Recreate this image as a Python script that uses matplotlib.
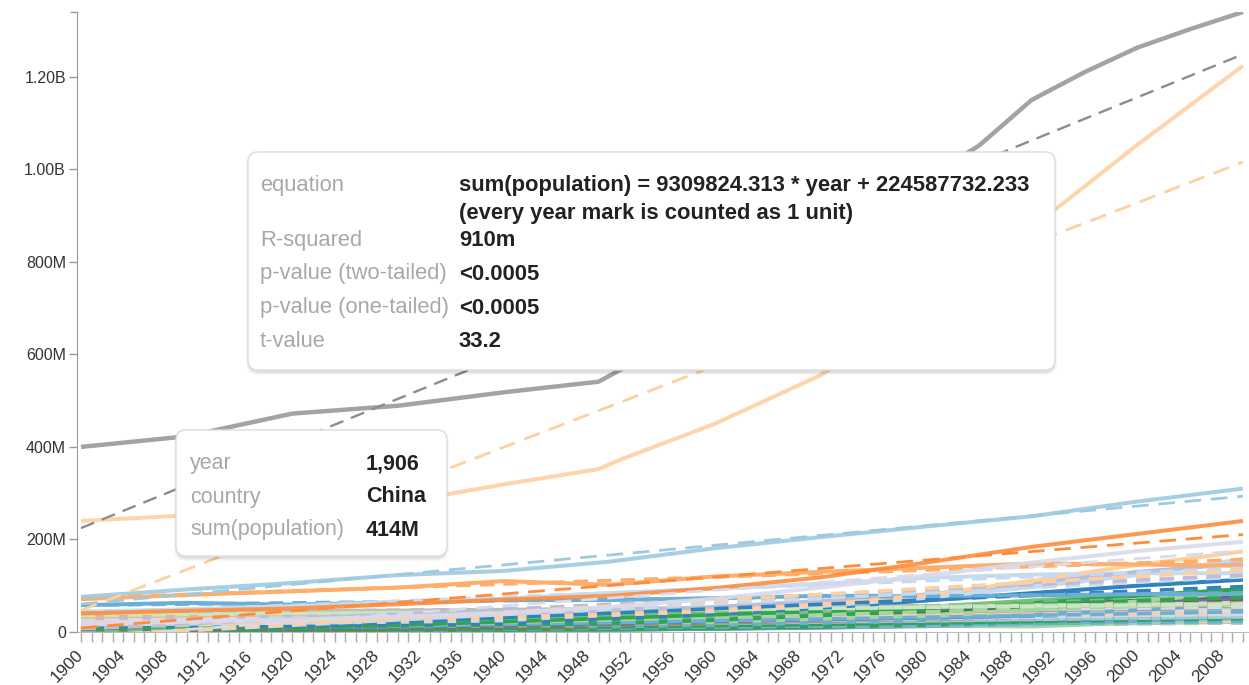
import numpy as np
import matplotlib
matplotlib.use("Agg")
import matplotlib.pyplot as plt
from matplotlib.patches import FancyBboxPatch
from matplotlib.transforms import IdentityTransform

plt.rcParams['font.family'] = ['Liberation Sans', 'DejaVu Sans']

# ---------------- data (population, millions) ----------------
DECADES = [1900, 1910, 1920, 1930, 1940, 1950, 1960, 1970, 1980, 1990, 2000, 2010]

china_years = [1900, 1910, 1920, 1930, 1940, 1949, 1951, 1955, 1960, 1965, 1970, 1975,
               1980, 1985, 1990, 1995, 2000, 2005, 2010]
china_pop = [400, 423, 472, 489, 518, 541, 566, 610, 660, 715, 818, 916,
             981, 1051, 1150, 1210, 1263, 1303, 1340]

india_years = [1900, 1910, 1920, 1930, 1940, 1949, 1951, 1960, 1970, 1980, 1990, 2000, 2010]
india_pop = [240, 252, 253, 279, 319, 352, 372, 450, 555, 699, 873, 1053, 1224]

usa = [76, 92, 106, 123, 132, 152, 181, 205, 228, 250, 282, 310]
indonesia = [40, 46, 51, 60, 70, 78, 95, 118, 150, 184, 212, 240]
brazil = [17, 22, 27, 33, 41, 54, 72, 96, 122, 150, 175, 195]
russia = [71, 80, 88, 96, 110, 102, 120, 130, 139, 148, 146, 143]
pakistan = [20, 22, 24, 27, 31, 37, 46, 59, 79, 111, 145, 174]
bangladesh = [29, 31, 33, 36, 42, 44, 54, 67, 81, 106, 130, 148]
nigeria = [16, 18, 20, 22, 25, 38, 45, 56, 74, 97, 123, 158]
japan = [44, 49, 56, 64, 72, 84, 94, 104, 117, 124, 127, 127]
germany = [58, 63, 59, 64, 69, 69, 73, 78, 78, 79, 82, 82]
mexico = [13.6, 15, 14.5, 16.5, 19.8, 28, 38, 52, 68, 84, 100, 113]
philippines = [7.3, 8.6, 10.3, 13, 16, 18, 26, 36, 48, 62, 78, 93]
vietnam = [13, 14, 15, 17, 20, 25, 32, 43, 54, 68, 80, 88]
ethiopia = [11, 11.5, 12, 13, 15, 18, 22, 29, 36, 48, 66, 87]
egypt = [10, 11.5, 13, 14.5, 16.5, 21.5, 27, 35, 44, 56, 68, 81]
turkey = [12, 13, 13.5, 14.5, 18, 21, 28, 35, 44, 56, 64, 73]
iran = [10, 10.5, 11, 12, 14, 17, 22, 29, 39, 56, 66, 74]
thailand = [7, 8, 9.5, 12, 15, 20, 27, 36, 46, 56, 62, 66]
france = [41, 41.5, 39, 41.5, 41, 42, 46, 51, 54, 57, 59, 63]
uk = [41, 45, 46, 46, 48, 50, 52, 56, 56, 57, 59, 62]
italy = [32, 35, 36, 41, 44, 47, 50, 54, 56, 57, 57, 60]
congo = [11, 11, 11, 12, 14, 12, 15, 20, 27, 37, 47, 62]
south_africa = [5, 6, 7, 9, 11, 14, 17, 22, 29, 37, 44, 50]
south_korea = [8, 9, 10, 12, 14, 19, 25, 32, 38, 43, 46, 49]
myanmar = [10, 12, 13, 15, 16, 17, 21, 27, 34, 40, 46, 50]
ukraine = [26, 30, 28, 30, 41, 37, 42, 47, 50, 52, 49, 46]
spain = [18.5, 20, 21, 23.5, 26, 28, 30, 34, 37, 39, 40, 46]
colombia = [4, 5, 6, 8, 9, 12, 16, 21, 27, 33, 39, 45]
argentina = [4.7, 6.8, 8.9, 11.9, 14.2, 17, 20.6, 24, 28, 32, 37, 40]
poland = [24, 27, 27, 31, 35, 25, 30, 33, 35, 38, 38, 38]
kenya = [2.9, 3, 3.3, 3.8, 4.5, 6, 8, 11, 16, 23, 31, 40]
canada = [5.3, 7, 8.6, 10, 11, 14, 18, 21, 24, 28, 31, 34]
tanzania = [4, 4.3, 4.7, 5.3, 6.2, 7.6, 10, 13.6, 18.7, 25.5, 34, 45]
sudan = [3.5, 3.9, 4.3, 5, 6, 7.5, 10, 13.9, 19, 26, 34, 43]
algeria = [4.6, 5.2, 5.8, 6.3, 7.6, 8.9, 11, 14, 19, 25.3, 30.5, 35.5]
uganda = [2, 2.3, 2.6, 3, 3.6, 5.2, 6.8, 9.4, 12.6, 17.7, 24, 33]
morocco = [5, 5.3, 5.5, 6, 7, 9, 12, 15, 19.5, 24.8, 28.8, 32]
afghanistan = [5, 5.3, 5.6, 6.1, 7, 8.2, 9.8, 12.4, 13.4, 12, 20, 29]
iraq = [2.2, 2.4, 2.7, 3.2, 4, 5.3, 7.3, 10, 13.6, 18, 24, 31]
nepal = [5.3, 5.6, 5.6, 6, 7, 8.5, 10, 12, 15, 19, 24, 27]
peru = [3.8, 4.2, 4.8, 5.5, 6.5, 7.6, 10, 13, 17, 22, 26, 29]
venezuela = [2.5, 2.6, 2.8, 3.1, 3.7, 5, 7.6, 11, 15, 19.7, 24, 29]
malaysia = [2.5, 2.9, 3.3, 3.8, 4.4, 6.1, 8.1, 10.9, 13.8, 18, 23, 28]
north_korea = [5, 5.5, 6, 6.8, 8, 10, 11, 14.5, 17, 20, 23, 24]
australia = [3.7, 4.4, 5.3, 6.4, 7, 8.2, 10.3, 12.5, 14.7, 17, 19, 22]
romania = [11, 12, 13, 14.5, 15.9, 16.3, 18.4, 20.3, 22.2, 23.2, 22.4, 21.5]

# regression reported in the tooltip (China)
CHINA_SLOPE = 9309824.313
CHINA_INTERCEPT = 224587732.233

Y_TICKS = [0, 200e6, 400e6, 600e6, 800e6, 1000e6, 1200e6]
Y_LABELS = ["0", "200M", "400M", "600M", "800M", "1.00B", "1.20B"]

TT1_LABELS = ["equation", "", "R-squared", "p-value (two-tailed)", "p-value (one-tailed)", "t-value"]
TT1_VALUES = ["sum(population) = 9309824.313 * year + 224587732.233",
              "(every year mark is counted as 1 unit)",
              "910m", "<0.0005", "<0.0005", "33.2"]
TT2_LABELS = ["year", "country", "sum(population)"]
TT2_VALUES = ["1,906", "China", "414M"]

small = [
    (romania, "#c7e9c0"), (australia, "#bcbddc"), (north_korea, "#fdd0a2"), (malaysia, "#9ecae1"),
    (venezuela, "#31a354"), (peru, "#fdae6b"), (nepal, "#c6dbef"), (iraq, "#756bb1"),
    (afghanistan, "#a1d99b"), (morocco, "#e6550d"), (uganda, "#6baed6"), (algeria, "#d9d9d9"),
    (sudan, "#9e9ac8"), (tanzania, "#3182bd"),
    (kenya, "#31a354"), (canada, "#9ecae1"), (colombia, "#e6550d"), (argentina, "#c6dbef"),
    (south_africa, "#3182bd"), (south_korea, "#9e9ac8"), (myanmar, "#74c476"),
    (poland, "#d9d9d9"), (spain, "#fdd0a2"), (ukraine, "#dadaeb"), (congo, "#6baed6"),
    (thailand, "#e6550d"), (iran, "#9e9ac8"), (turkey, "#756bb1"), (egypt, "#636363"),
    (ethiopia, "#a1d99b"), (vietnam, "#74c476"), (philippines, "#31a354"),
    (italy, "#fdae6b"), (uk, "#bdbdbd"), (france, "#c7e9c0"), (mexico, "#3182bd"),
    (germany, "#6baed6"), (japan, "#c6dbef"), (nigeria, "#c6dbef"), (bangladesh, "#bcbddc"),
    (pakistan, "#fdd0a2"), (russia, "#fdae6b"),
]
big = [
    (DECADES, brazil, "#dadaeb"), (DECADES, indonesia, "#fd8d3c"), (DECADES, usa, "#9ecae1"),
    (india_years, india_pop, "#fdd0a2"),
]

W, H = 1249, 685
fig = plt.figure(figsize=(W / 100, H / 100), dpi=100)
ax_left, ax_right, ax_top, ax_bot = 77, 1249, 12, 632
ax = fig.add_axes([ax_left / W, 1 - ax_bot / H, (ax_right - ax_left) / W, (ax_bot - ax_top) / H])

px_per_year = (1243 - 81) / 110.0
ax.set_xlim(1900 - 4 / px_per_year, 2010 + 6 / px_per_year)
ax.set_ylim(0, 1340e6)

annual = np.arange(1900, 2011)


def trend(years, vals):
    series = np.interp(annual, years, vals)
    s, b = np.polyfit(annual - 1900, series, 1)
    return s, b


SOLID_LW = 2.9
DASH_LW = 1.7
DASHES = (6, 3.5)

for vals, col in small:
    v = np.array(vals) * 1e6
    ax.plot(DECADES, v, color=col, lw=SOLID_LW, solid_capstyle='butt', zorder=2)
    s, b = trend(DECADES, v)
    ax.plot([1900, 2010], [b, b + s * 110], color=col, lw=2.6, dashes=(4, 2.5), zorder=2.5)

for yrs, vals, col in big:
    v = np.array(vals) * 1e6
    ax.plot(yrs, v, color=col, lw=SOLID_LW, alpha=0.9, solid_capstyle='butt', zorder=3)
    s, b = trend(yrs, v)
    ax.plot([1900, 2010], [b, b + s * 110], color=col, lw=DASH_LW + 0.3, dashes=DASHES, zorder=3.5)

cv = np.array(china_pop) * 1e6
ax.plot(china_years, cv, color="#a3a3a3", lw=SOLID_LW + 0.3, solid_capstyle='butt', zorder=4)
ax.plot([1900, 2010], [CHINA_INTERCEPT, CHINA_INTERCEPT + CHINA_SLOPE * 110], color="#8c8c8c",
        lw=DASH_LW, dashes=DASHES, zorder=4.5)

# axes styling
for sp in ["top", "right"]:
    ax.spines[sp].set_visible(False)
ax.spines["left"].set_color("#999999")
ax.spines["bottom"].set_color("#bbbbbb")
ax.spines["left"].set_zorder(6)
ax.set_yticks(Y_TICKS)
ax.set_yticklabels(Y_LABELS)
ax.tick_params(axis='y', length=6, width=1, color="#999999", labelsize=11.5, labelcolor="#333333", pad=2)
ax.set_xticks(np.arange(1900, 2011, 4))
ax.set_xticklabels([str(y) for y in range(1900, 2011, 4)], rotation=45, ha='right', va='center',
                   rotation_mode='anchor')
ax.set_xticks(np.arange(1900, 2011, 1), minor=True)
ax.tick_params(axis='x', which='both', length=7, width=1, color="#aaaaaa", labelsize=12.5,
               labelcolor="#333333", pad=8)
# top outer tick of y axis
ax.plot([ax.get_xlim()[0] - 6 / px_per_year, ax.get_xlim()[0]], [1340e6, 1340e6],
        color="#999999", lw=1, clip_on=False, zorder=6)


# ---------------- tooltips ----------------
def box(x0, y0, x1, y1):
    for i, a in enumerate([0.03, 0.04, 0.05]):
        d = 3 - i
        sh = FancyBboxPatch((x0 - d + 1, H - y1 - d - 2), (x1 - x0) + 2 * d - 2, (y1 - y0) + 2 * d,
                            boxstyle="round,pad=0,rounding_size=12", transform=IdentityTransform(),
                            facecolor="black", edgecolor="none", alpha=a, zorder=9)
        fig.add_artist(sh)
    p = FancyBboxPatch((x0, H - y1), x1 - x0, y1 - y0, boxstyle="round,pad=0,rounding_size=10",
                       transform=IdentityTransform(), facecolor="white", edgecolor="#dddddd",
                       lw=1, zorder=10)
    fig.add_artist(p)


TT_FS = 15.8
box(248, 152, 1055, 370)
rows1 = [186, 214, 241, 274, 308, 342]
for lab, val, yy in zip(TT1_LABELS, TT1_VALUES, rows1):
    if lab:
        fig.text(260 / W, 1 - yy / H, lab, fontsize=TT_FS, color="#a8a8a8", va='center', ha='left', zorder=11)
    fig.text(459 / W, 1 - yy / H, val, fontsize=TT_FS, color="#222222", fontweight='bold',
             va='center', ha='left', zorder=11)

box(176, 430, 447, 556)
rows2 = [464, 497, 530]
for lab, val, yy in zip(TT2_LABELS, TT2_VALUES, rows2):
    fig.text(190 / W, 1 - yy / H, lab, fontsize=TT_FS - 0.3, color="#a8a8a8", va='center', ha='left', zorder=11)
    fig.text(366 / W, 1 - yy / H, val, fontsize=TT_FS - 0.3, color="#222222", fontweight='bold',
             va='center', ha='left', zorder=11)

fig.savefig("out.png", dpi=100)
